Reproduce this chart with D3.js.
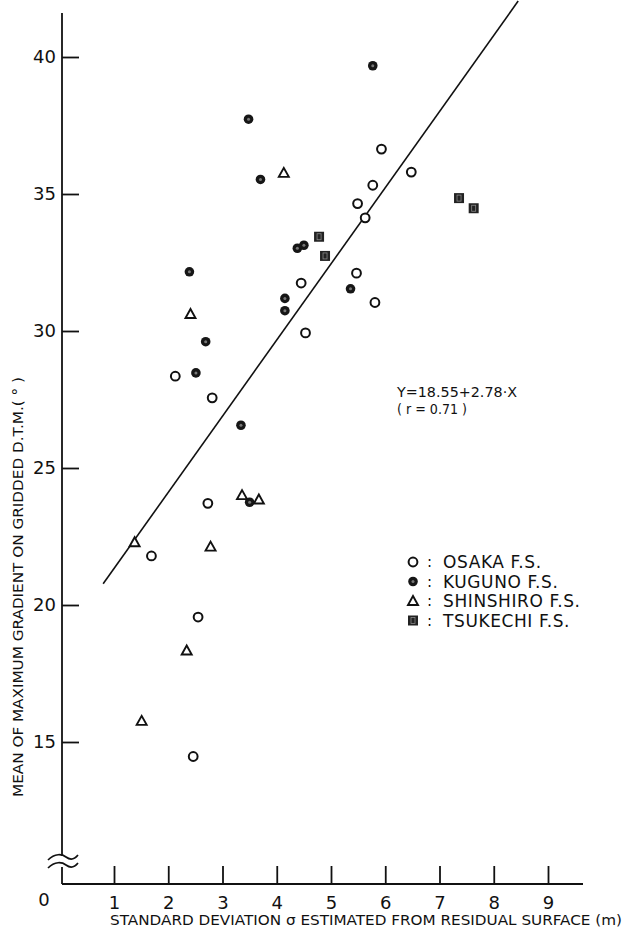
<!DOCTYPE html>
<html>
<head>
<meta charset="utf-8">
<script src="https://cdn.jsdelivr.net/npm/d3@7"></script>
<style>
  body { margin: 0; background: #fff; }
  svg { display: block; }
  text { font-family: "DejaVu Sans", sans-serif; fill: #111; }
</style>
</head>
<body>
<div id="chart"></div>
<script>
// data  [sigma (m), mean max gradient (deg)]
var osaka = [[5.93,36.64],[6.48,35.8],[5.77,35.32],[5.49,34.65],[5.63,34.13],[5.47,32.11],
             [4.45,31.75],[5.81,31.04],[4.53,29.93],[2.13,28.35],[2.81,27.56],[2.73,23.71],
             [1.69,21.79],[2.55,19.56],[2.46,14.47]];
var kuguno = [[5.77,39.68],[3.48,37.73],[3.70,35.53],[4.38,33.02],[4.50,33.13],[2.39,32.16],
              [5.36,31.54],[4.15,31.19],[4.15,30.74],[2.69,29.61],[2.51,28.47],[3.34,26.56],
              [3.50,23.75]];
var shinshiro = [[4.13,35.77],[2.41,30.62],[3.36,24.01],[3.67,23.85],[2.78,22.13],[1.38,22.29],
                 [2.34,18.34],[1.51,15.77]];
var tsukechi = [[4.78,33.44],[4.89,32.74],[7.36,34.85],[7.63,34.48]];

var xTicks = [1,2,3,4,5,6,7,8,9];
var yTicks = [15,20,25,30,35,40];
var fitA = 18.55, fitB = 2.78, fitRange = [0.8, 8.45];
var legendNames = ["OSAKA F.S.", "KUGUNO F.S.", "SHINSHIRO F.S.", "TSUKECHI F.S."];

var width = 626, height = 935;
var axisX = 62, axisY = 884;

var x = d3.scaleLinear().domain([1, 9]).range([114, 548]);
var y = d3.scaleLinear().domain([15, 40]).range([742, 57]);

var svg = d3.select("#chart").append("svg")
    .attr("width", width)
    .attr("height", height);

// y axis (ticks pointing inward)
var yAxis = svg.append("g")
    .attr("transform", "translate(" + axisX + ",0)")
    .call(d3.axisLeft(y).tickValues(yTicks).tickSize(-17).tickPadding(6));
yAxis.select(".domain").remove();
yAxis.selectAll("line").attr("stroke", "#111").attr("stroke-width", 1.8);
yAxis.selectAll("text").attr("font-size", 18).style("font-family", "DejaVu Sans").attr("fill", "#111");

// x axis
var xAxis = svg.append("g")
    .attr("transform", "translate(0," + axisY + ")")
    .call(d3.axisBottom(x).tickValues(xTicks).tickSize(-18).tickPadding(12));
xAxis.select(".domain").remove();
xAxis.selectAll("line").attr("stroke", "#111").attr("stroke-width", 1.8);
xAxis.selectAll("text").attr("font-size", 18).style("font-family", "DejaVu Sans").attr("fill", "#111");

// axis lines with the break near the bottom
svg.append("line").attr("x1", axisX).attr("x2", axisX).attr("y1", 13).attr("y2", 856)
    .attr("stroke", "#111").attr("stroke-width", 1.8);
svg.append("line").attr("x1", axisX).attr("x2", axisX).attr("y1", 867).attr("y2", axisY)
    .attr("stroke", "#111").attr("stroke-width", 1.8);
svg.append("line").attr("x1", axisX).attr("x2", 583).attr("y1", axisY).attr("y2", axisY)
    .attr("stroke", "#111").attr("stroke-width", 1.8);
[857, 865].forEach(function(b) {
  svg.append("path")
      .attr("d", "M48," + (b + 3) + " C55," + (b - 4) + " 62," + (b - 3) + " 66," + b +
                 " S74," + (b + 3) + " 78," + (b - 2))
      .attr("fill", "none").attr("stroke", "#111").attr("stroke-width", 1.7);
});

svg.append("text").attr("x", 44).attr("y", 900).attr("dy", "0.35em")
    .attr("text-anchor", "middle").attr("font-size", 18).text("0");

// axis titles
svg.append("text")
    .attr("x", 110).attr("y", 925)
    .attr("font-size", 14)
    .attr("textLength", 512).attr("lengthAdjust", "spacingAndGlyphs")
    .text("STANDARD DEVIATION σ  ESTIMATED FROM RESIDUAL SURFACE (m)");

svg.append("text")
    .attr("transform", "translate(23,587) rotate(-90)")
    .attr("text-anchor", "middle")
    .attr("font-size", 14)
    .attr("textLength", 420).attr("lengthAdjust", "spacingAndGlyphs")
    .text("MEAN OF MAXIMUM GRADIENT ON GRIDDED D.T.M.( ° )");

// regression line
svg.append("line")
    .attr("x1", x(fitRange[0])).attr("y1", y(fitA + fitB * fitRange[0]))
    .attr("x2", x(fitRange[1])).attr("y2", y(fitA + fitB * fitRange[1]))
    .attr("stroke", "#111").attr("stroke-width", 1.6);

svg.append("text").attr("x", 397).attr("y", 397).attr("font-size", 14)
    .attr("textLength", 120).attr("lengthAdjust", "spacingAndGlyphs")
    .text("Y=18.55+2.78·X");
svg.append("text").attr("x", 397).attr("y", 414).attr("font-size", 14)
    .attr("textLength", 70).attr("lengthAdjust", "spacingAndGlyphs")
    .text("( r = 0.71 )");

// marker drawing helpers
function drawCircle(g, cx, cy) {
  g.append("circle").attr("cx", cx).attr("cy", cy).attr("r", 4.4)
      .attr("fill", "#fff").attr("stroke", "#111").attr("stroke-width", 2);
}
function drawDot(g, cx, cy) {
  g.append("circle").attr("cx", cx).attr("cy", cy).attr("r", 4.8).attr("fill", "#161616");
  g.append("circle").attr("cx", cx).attr("cy", cy).attr("r", 1.5).attr("fill", "#777");
}
function drawTriangle(g, cx, cy) {
  g.append("path")
      .attr("d", "M" + cx + "," + (cy - 5) + " L" + (cx + 5) + "," + (cy + 4) + " L" + (cx - 5) + "," + (cy + 4) + " Z")
      .attr("fill", "#fff").attr("stroke", "#111").attr("stroke-width", 1.9);
}
function drawSquare(g, cx, cy) {
  g.append("rect").attr("x", cx - 5).attr("y", cy - 5).attr("width", 10).attr("height", 10)
      .attr("fill", "#222");
  g.append("rect").attr("x", cx - 2).attr("y", cy - 3).attr("width", 4).attr("height", 6)
      .attr("fill", "none").attr("stroke", "#888").attr("stroke-width", 0.8);
}

var pts = svg.append("g");
osaka.forEach(function(d) { drawCircle(pts, x(d[0]), y(d[1])); });
kuguno.forEach(function(d) { drawDot(pts, x(d[0]), y(d[1])); });
shinshiro.forEach(function(d) { drawTriangle(pts, x(d[0]), y(d[1])); });
tsukechi.forEach(function(d) { drawSquare(pts, x(d[0]), y(d[1])); });

// legend
var drawers = [drawCircle, drawDot, drawTriangle, drawSquare];
var legend = svg.append("g");
legendNames.forEach(function(name, i) {
  var ly = 562 + i * 19.5;
  drawers[i](legend, 413, ly);
  legend.append("text").attr("x", 427).attr("y", ly).attr("dy", "0.35em")
      .attr("font-size", 15).text(":");
  legend.append("text").attr("x", 443).attr("y", ly).attr("dy", "0.36em")
      .attr("font-size", 17).attr("letter-spacing", 0.6).text(name);
});
</script>
</body>
</html>
